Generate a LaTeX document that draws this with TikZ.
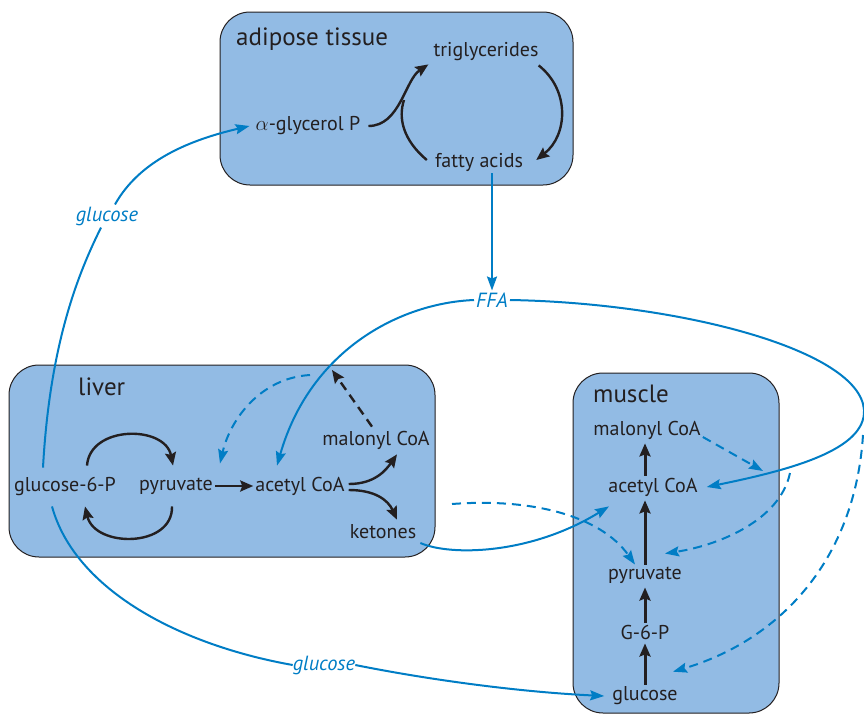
\documentclass[tikz,border=0pt]{standalone}
\usepackage{fontspec}
\setmainfont{PT Sans}
\usetikzlibrary{arrows, arrows.meta, positioning}
\definecolor{boxblue}{RGB}{146,187,228}
\definecolor{flowblue}{RGB}{0,125,197}
\definecolor{ink}{RGB}{35,31,32}
\tikzstyle{organ} = [draw=ink, line width=1pt, fill=boxblue, rounded corners=30pt]
\tikzstyle{organname} = [anchor=base west, inner sep=0pt, text=ink, font=\fontsize{25}{30}\selectfont]
\tikzstyle{metab} = [inner sep=2pt, text=ink, font=\fontsize{20}{24}\selectfont]
\tikzstyle{carrier} = [inner sep=2pt, text=flowblue, font=\fontsize{20.5}{24}\selectfont\itshape]
\tikzstyle{arrow} = [line width=2.4pt, draw=ink, ->, >={Stealth[length=13pt,width=11pt,inset=2pt]}]
\tikzstyle{flow} = [line width=2pt, draw=flowblue, ->, >={Stealth[length=14pt,width=10pt,inset=2pt]}]
\tikzstyle{reg} = [dash pattern=on 9pt off 6pt]

\begin{document}
\begin{tikzpicture}[x=1pt, y=-1pt]
    \useasboundingbox (0,0) rectangle (864,715);
    % organs
    \draw[organ] (220,12) rectangle (573,185);
    \draw[organ] (9,365) rectangle (435,557);
    \draw[organ] (573,373) rectangle (779,713);
    \node[organname] (adtitle) at (236,45) {adipose tissue};
    \node[organname] (lvtitle) at (78,395) {liver};
    \node[organname] (mutitle) at (593,402) {muscle};

    % adipose tissue
    \node[metab] (tg) at (486,52) {triglycerides};
    \node[metab] (gly) at (308,126) {$\alpha$-glycerol P};
    \node[metab] (fa) at (479,162) {fatty acids};
    \coordinate (merge) at (404,100);
    \draw[arrow] ([xshift=6pt]gly.east) .. controls (400,126) and (405,80) .. ([shift={(-3,1)}]tg.south west);
    \draw[arrow, -] ([shift={(-6,-2)}]fa.west) .. controls (403,140) and (398,118) .. (merge);
    \draw[arrow] ([shift={(-2,2)}]tg.south east) .. controls (570,90) and (568,135) .. ([shift={(11,-2)}]fa.east);

    % blood
    \node[carrier] (ffa) at (492,300) {FFA};
    \node[carrier] (gluA) at (107,216) {glucose};
    \node[carrier] (gluB) at (324,665) {glucose};

    % liver
    \node[metab] (g6p) at (65,486) {glucose-6-P};
    \node[metab, right of=g6p, node distance=111pt] (lpyr) {pyruvate};
    \node[metab, right of=lpyr, node distance=124pt] (laco) {acetyl CoA};
    \node[metab] (lmal) at (376,440) {malonyl CoA};
    \node[metab] (ket) at (383,532) {ketones};
    \coordinate (inh) at (332,370);
    \coordinate (lvfb) at (310,375);
    \draw[arrow] ([shift={(22,-9)}]g6p.north) .. controls (90,425) and (165,425) .. ([shift={(-3,-10)}]lpyr.north);
    \draw[arrow] ([shift={(-4,10)}]lpyr.south) .. controls (173,548) and (95,548) .. ([shift={(20,9)}]g6p.south);
    \draw[arrow] (lpyr) -- (laco);
    \draw[arrow] ([shift={(2,-2)}]laco.east) .. controls (375,484) and (386,470) .. ([shift={(21,3)}]lmal.south);
    \draw[arrow] ([shift={(2,4)}]laco.east) .. controls (375,490) and (388,500) .. ([shift={(14,-3)}]ket.north);
    \draw[arrow, reg] ([shift={(-4,-2)}]lmal.north) -- (inh);

    % muscle
    \node[metab] (mglu) at (645,696) {glucose};
    \node[metab, above of=mglu, node distance=64pt] (mg6p) {G-6-P};
    \node[metab, above of=mg6p, node distance=57pt] (mpyr) {pyruvate};
    \node[metab, above of=mpyr, node distance=88pt, xshift=8pt] (maco) {acetyl CoA};
    \node[metab, above of=maco, node distance=57pt, xshift=-6pt] (mmal) {malonyl CoA};
    \coordinate (lvout) at (452,504);
    \coordinate (mmalfb) at (763,471);
    \coordinate (mfb) at (790,473);
    \coordinate (rfb) at (863,435);
    \draw[arrow, line width=3pt, shorten >=2pt] (mglu) -- (mg6p);
    \draw[arrow, line width=3pt, shorten >=2pt] (mg6p) -- (mpyr);
    \draw[arrow, line width=3pt, shorten >=2pt] (mpyr) -- (mpyr |- maco.south);
    \draw[arrow, line width=3pt, shorten >=2pt] (maco.north -| mpyr) -- (mpyr |- mmal.south);

    % transport between organs
    \draw[flow, -] ([shift={(-22,-7)}]g6p.north) .. controls (50,340) and (80,270) .. ([xshift=-6pt]gluA.south);
    \draw[flow] ([xshift=8pt]gluA.north) .. controls (140,160) and (190,140) .. ([xshift=-4pt]gly.west);
    \draw[flow] (fa.south -| ffa) -- (ffa);
    \draw[flow] (ffa.west) .. controls (400,303) and (310,350) .. ([shift={(-23,-9)}]laco.north);
    \draw[flow] (ffa.east) .. controls (680,303) and (860,350) .. (864,410)
        .. controls (866,450) and (790,470) .. ([xshift=7pt]maco.east);
    \draw[flow, -] ([shift={(-13,9)}]g6p.south) .. controls (75,590) and (180,645) .. ([xshift=2pt]gluB.west);
    \draw[flow] ([xshift=-2pt]gluB.east) .. controls (430,680) and (520,692) .. ([xshift=-6pt]mglu.west);
    \draw[flow] ([shift={(2,11)}]ket.east) .. controls (450,556) and (530,555) .. ([shift={(-44,8)}]maco.south);

    % regulation
    \draw[flow, reg] (lvfb) .. controls (260,378) and (230,420) .. ([shift={(44,-12)}]lpyr.north);
    \draw[flow, reg] (lvout) .. controls (530,498) and (600,515) .. ([shift={(-10,0)}]mpyr.north);
    \draw[flow, reg] ([shift={(0,7)}]mmal.east) -- (mmalfb);
    \draw[flow, reg] (mfb) .. controls (780,520) and (720,545) .. ([shift={(20,-11)}]mpyr.north);
    \draw[flow, reg] (rfb) .. controls (855,560) and (780,640) .. ([shift={(28,-13)}]mglu.north);
\end{tikzpicture}
\end{document}
